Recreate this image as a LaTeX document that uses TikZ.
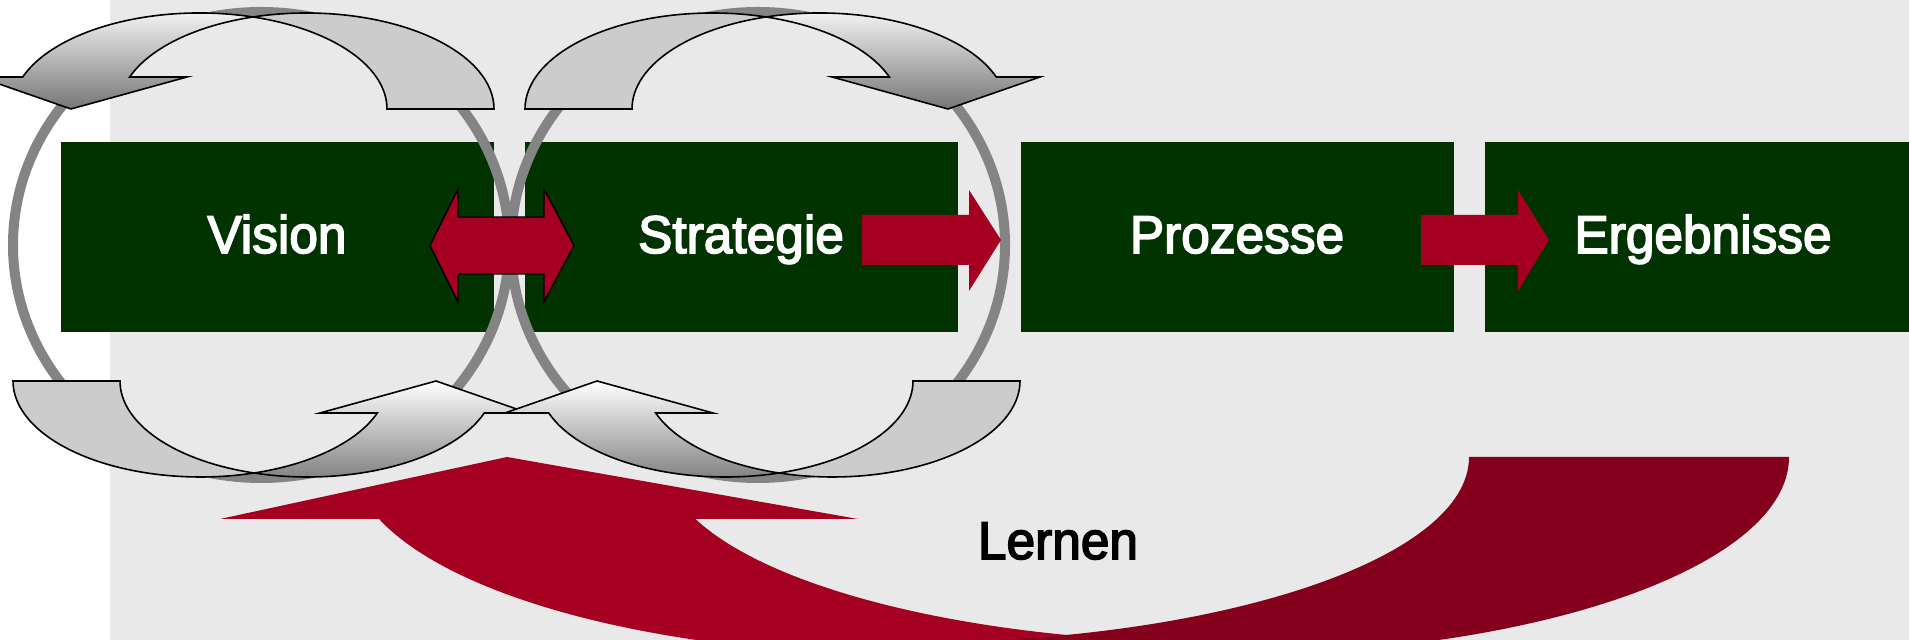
\documentclass[tikz,border=0pt]{standalone}
\usepackage{fontspec}
\setmainfont[FakeStretch=0.97,FakeBold=3]{Liberation Sans}
\definecolor{panel}{HTML}{E9E9E9}
\definecolor{boxgreen}{HTML}{013300}
\definecolor{accent}{HTML}{A50021}
\definecolor{accentdark}{HTML}{85001C}
\definecolor{ringgrey}{HTML}{848484}
\definecolor{backface}{HTML}{CCCCCC}
\definecolor{frontdark}{HTML}{767676}
\begin{document}
\begin{tikzpicture}[x=0.5pt,y=0.5pt,
  stage/.style={fill=boxgreen, draw=none, inner sep=0pt, outer sep=0pt,
    minimum width=216.5pt, minimum height=95pt},
  stagetext/.style={text=white, font=\fontsize{26.5}{30}\selectfont, anchor=base, inner sep=0pt},
  looptext/.style={text=black, font=\fontsize{26.5}{30}\selectfont, anchor=base, inner sep=0pt},
  ring/.style={draw=ringgrey, line width=5pt},
  blockarrow/.style={fill=accent, draw=none},
  blockarrowlined/.style={fill=accent, draw=black, line width=0.7pt, line join=miter},
  frontface/.style={top color=white, bottom color=frontdark, draw=black, line width=0.8pt},
  rearface/.style={fill=backface, draw=black, line width=0.8pt},
  loophead/.style={fill=accent},
  looptail/.style={fill=accentdark}]

\useasboundingbox (0,0) rectangle (1909,640);
\clip (0,0) rectangle (1909,640);

% page and panel
\fill[white] (0,0) rectangle (1909,640);
\fill[panel] (110,0) rectangle (1909,640);

% the four stages
\node[stage] (vision)     at (277.5,403) {};
\node[stage] (strategie)  at (741.5,403) {};
\node[stage] (prozesse)   at (1237,403) {};
\node[stage] (ergebnisse) at (1701.5,403) {};

% the two feedback rings
\draw[ring] (261,395) ellipse [x radius=248, y radius=233];
\draw[ring] (758,395) ellipse [x radius=247, y radius=233];

% block arrows between the stages
\filldraw[blockarrowlined] (430,394.5) -- (458,451) -- (458,423) -- (544,423) -- (544,451)
  -- (574,394.5) -- (544,338) -- (544,366) -- (458,366) -- (458,338) -- cycle;
\fill[blockarrow] (862,425) -- (969,425) -- (969,450) -- (1001,400) -- (969,349)
  -- (969,375) -- (862,375) -- cycle;
\fill[blockarrow] (1421,425) -- (1518,425) -- (1518,450) -- (1549,400) -- (1518,349)
  -- (1518,375) -- (1421,375) -- cycle;

% large learning loop arrow: head part, then the darker tail on top
\fill[loophead] (379,121) -- (220,121) -- (507,183) -- (858,121) -- (695.4,121)
  arc[start angle=199.52, end angle=270, x radius=563, y radius=185.6]
  -- (1226,-30) -- (906,-30) -- (906,-14.6)
  arc[start angle=270, end angle=198.29, x radius=555, y radius=197.6] -- cycle;
\fill[looptail] (1469,183) -- (1789,183)
  arc[start angle=360, end angle=270, x radius=563, y radius=197.6]
  -- (1226,-30) -- (906,-30) -- (906,-2.6)
  arc[start angle=270, end angle=360, x radius=563, y radius=185.6] -- cycle;

% curved arrow, top left
\filldraw[rearface] (387,531)
  arc[start angle=0, end angle=73.42, x radius=187.5, y radius=96]
  arc[start angle=106.58, end angle=0, x radius=187.5, y radius=96] -- cycle;
\shade[frontface] (22.7,563) -- (-21,563) -- (71,531) -- (187,563) -- (129.7,563)
  arc[start angle=160.53, end angle=106.58, x radius=187.5, y radius=96]
  arc[start angle=73.42, end angle=160.53, x radius=187.5, y radius=96] -- cycle;

% curved arrow, top right
\filldraw[rearface] (632,531)
  arc[start angle=180, end angle=106.58, x radius=187.5, y radius=96]
  arc[start angle=73.42, end angle=180, x radius=187.5, y radius=96] -- cycle;
\shade[frontface] (996.3,563) -- (1040,563) -- (948,531) -- (832,563) -- (889.3,563)
  arc[start angle=19.47, end angle=73.42, x radius=187.5, y radius=96]
  arc[start angle=106.58, end angle=19.47, x radius=187.5, y radius=96] -- cycle;

% curved arrow, bottom left
\filldraw[rearface] (120,259)
  arc[start angle=180, end angle=253.42, x radius=187.5, y radius=96]
  arc[start angle=286.58, end angle=180, x radius=187.5, y radius=96] -- cycle;
\shade[frontface] (484.3,227) -- (528,227) -- (436,259) -- (320,227) -- (377.3,227)
  arc[start angle=340.53, end angle=286.58, x radius=187.5, y radius=96]
  arc[start angle=253.42, end angle=340.53, x radius=187.5, y radius=96] -- cycle;

% curved arrow, bottom right
\filldraw[rearface] (913,259)
  arc[start angle=360, end angle=286.58, x radius=187.5, y radius=96]
  arc[start angle=253.42, end angle=360, x radius=187.5, y radius=96] -- cycle;
\shade[frontface] (548.7,227) -- (505,227) -- (597,259) -- (713,227) -- (655.7,227)
  arc[start angle=199.47, end angle=253.42, x radius=187.5, y radius=96]
  arc[start angle=286.58, end angle=199.47, x radius=187.5, y radius=96] -- cycle;

% labels
\node[stagetext] (tvision)     at (277,387)  {Vision};
\node[stagetext] (tstrategie)  at (741,387)  {Strategie};
\node[stagetext] (tprozesse)   at (1237,387) {Prozesse};
\node[stagetext] (tergebnisse) at (1703,387) {Ergebnisse};
\node[looptext]  (tlernen)     at (1058,81)  {Lernen};
\end{tikzpicture}
\end{document}
